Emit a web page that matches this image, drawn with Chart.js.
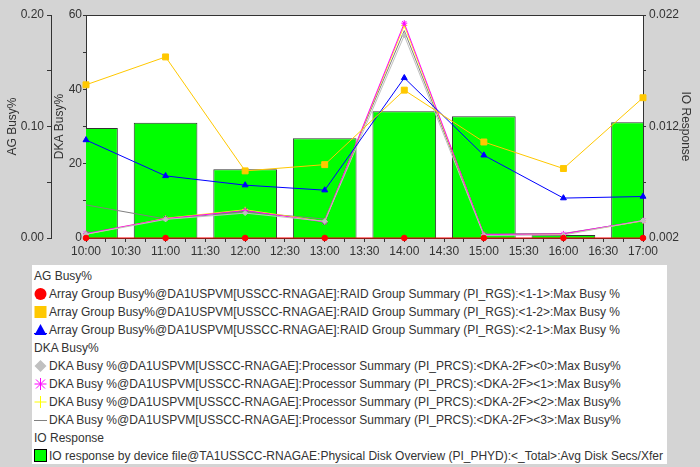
<!DOCTYPE html>
<html>
<head>
<meta charset="utf-8">
<script src="https://cdn.jsdelivr.net/npm/chart.js@4/dist/chart.umd.min.js"></script>
<style>
html,body{margin:0;padding:0;background:#d4d4d4;width:700px;height:467px;overflow:hidden;font-family:"Liberation Sans",Arial,sans-serif;}
#wrap{position:absolute;left:0;top:0;width:700px;height:262px;}
#legend{position:absolute;left:32px;top:265px;width:635px;height:199px;background:#fff;box-sizing:border-box;padding-top:2px;}
.row{height:18px;font-size:12px;color:#333;white-space:nowrap;display:flex;align-items:center;}
.hdr{padding-left:2px;}
.sym{width:15px;height:18px;margin-left:2px;flex:none;}
</style>
</head>
<body>
<div id="wrap"><canvas id="c" width="700" height="262"></canvas></div>
<div id="legend"></div>
<script>
// ---- data ----
const TIMES = ['10:00','11:00','12:00','13:00','14:00','15:00','16:00','17:00'];
const X_TICK_LABELS = ['10:00','10:30','11:00','11:30','12:00','12:30','13:00','13:30','14:00','14:30','15:00','15:30','16:00','16:30','17:00'];

const ag11 = [0, 0, 0, 0, 0, 0, 0, 0];
const ag12 = [0.1374, 0.1624, 0.0602, 0.0658, 0.1326, 0.0861, 0.0623, 0.1258];
const ag21 = [0.0879, 0.0557, 0.0474, 0.0429, 0.1436, 0.0742, 0.0358, 0.0372];

const dka0 = [1.0, 5.0, 6.7, 4.5, 54.5, 0.7, 0.8, 4.7];
const dka1 = [1.2, 5.2, 7.4, 4.3, 57.8, 0.9, 1.1, 4.7];
const dka2 = [1.0, 5.3, 7.6, 4.4, 57.2, 0.9, 1.0, 4.6];
const dka3 = [8.9, 5.1, 7.0, 5.1, 55.8, 1.1, 1.2, 4.6];

const ioResp = [0.01187, 0.01234, 0.00817, 0.01094, 0.01336, 0.01291, 0.00227, 0.01238];

const AG_TICKS = [0, 0.05, 0.10, 0.15, 0.20];
const AG_LABELS = ['0.00', '', '0.10', '', '0.20'];
const DKA_TICKS = [0, 10, 20, 30, 40, 50, 60];
const DKA_LABELS = ['0', '', '20', '', '40', '', '60'];
const IO_TICKS = [0.002, 0.007, 0.012, 0.017, 0.022];
const IO_LABELS = ['0.002', '', '0.012', '', '0.022'];

const GROUPS = ['AG Busy%', 'DKA Busy%', 'IO Response'];
const SERIES_NAMES = [
  'Array Group Busy%@DA1USPVM[USSCC-RNAGAE]:RAID Group Summary (PI_RGS):<1-1>:Max Busy %',
  'Array Group Busy%@DA1USPVM[USSCC-RNAGAE]:RAID Group Summary (PI_RGS):<1-2>:Max Busy %',
  'Array Group Busy%@DA1USPVM[USSCC-RNAGAE]:RAID Group Summary (PI_RGS):<2-1>:Max Busy %',
  'DKA Busy %@DA1USPVM[USSCC-RNAGAE]:Processor Summary (PI_PRCS):<DKA-2F><0>:Max Busy%',
  'DKA Busy %@DA1USPVM[USSCC-RNAGAE]:Processor Summary (PI_PRCS):<DKA-2F><1>:Max Busy%',
  'DKA Busy %@DA1USPVM[USSCC-RNAGAE]:Processor Summary (PI_PRCS):<DKA-2F><2>:Max Busy%',
  'DKA Busy %@DA1USPVM[USSCC-RNAGAE]:Processor Summary (PI_PRCS):<DKA-2F><3>:Max Busy%',
  'IO response by device file@TA1USSCC-RNAGAE:Physical Disk Overview (PI_PHYD):<_Total>:Avg Disk Secs/Xfer'
];

// ---- helpers ----
const xOf = t => { const [h, m] = t.split(':').map(Number); return h + m / 60; };
const pts = arr => arr.map((v, i) => ({ x: xOf(TIMES[i]), y: v }));
const X_MIN = xOf(X_TICK_LABELS[0]);
const X_MAX = xOf(X_TICK_LABELS[X_TICK_LABELS.length - 1]);
const X_TICKS = [];
for (let v = X_MIN; v <= X_MAX + 1e-9; v += 0.25) X_TICKS.push(v);
const xLabel = v => { const i = X_TICK_LABELS.findIndex(t => Math.abs(xOf(t) - v) < 1e-6); return i >= 0 ? X_TICK_LABELS[i] : ''; };

function lineDs(label, data, axis, color, style, radius, group, sym) {
  return {
    type: 'line', label, data: pts(data), xAxisID: 'xb', yAxisID: axis,
    borderColor: color, backgroundColor: color, borderWidth: 1,
    pointStyle: style, pointRadius: radius, pointHoverRadius: radius, pointBorderWidth: 1,
    pointBorderColor: color, pointBackgroundColor: color,
    tension: 0, clip: false, order: 1, group, sym
  };
}

const datasets = [
  lineDs(SERIES_NAMES[0], ag11, 'yAG', '#ff0000', 'circle', 2.8, 0, 'circle'),
  lineDs(SERIES_NAMES[1], ag12, 'yAG', '#ffc800', 'rect', 4.2, 0, 'rect'),
  lineDs(SERIES_NAMES[2], ag21, 'yAG', '#0000ff', 'triangle', 3.4, 0, 'triangle'),
  lineDs(SERIES_NAMES[3], dka0, 'yDKA', '#c0c0c0', 'rectRot', 2.5, 1, 'diamond'),
  lineDs(SERIES_NAMES[4], dka1, 'yDKA', '#ff00ff', 'star', 3, 1, 'star'),
  lineDs(SERIES_NAMES[5], dka2, 'yDKA', '#ffff00', 'cross', 3, 1, 'cross'),
  lineDs(SERIES_NAMES[6], dka3, 'yDKA', '#808080', 'circle', 0, 1, 'line'),
  {
    type: 'bar', label: SERIES_NAMES[7], data: pts(ioResp), xAxisID: 'xb', yAxisID: 'yIO',
    backgroundColor: '#00ff00', borderColor: '#333333', borderWidth: 1, borderSkipped: false,
    grouped: false, categoryPercentage: 1, barPercentage: 0.8, order: 10, group: 2, sym: 'box'
  }
];

Chart.defaults.font.family = '"Liberation Sans", Arial, sans-serif';
Chart.defaults.font.size = 12;
Chart.defaults.color = '#333';

const plotFrame = {
  id: 'plotFrame',
  beforeDraw(chart) {
    const a = chart.chartArea, ctx = chart.ctx;
    ctx.save(); ctx.fillStyle = '#ffffff';
    ctx.fillRect(a.left, a.top, a.right - a.left, a.bottom - a.top);
    ctx.restore();
  },
  afterDraw(chart) {
    const a = chart.chartArea, ctx = chart.ctx;
    ctx.save(); ctx.strokeStyle = '#333'; ctx.lineWidth = 1;
    ctx.beginPath();
    ctx.moveTo(Math.round(a.left) + 0.5, Math.round(a.top) + 0.5);
    ctx.lineTo(Math.round(a.right) + 0.5, Math.round(a.top) + 0.5);
    ctx.stroke();
    ctx.restore();
  }
};

const gridOpts = tl => ({ drawOnChartArea: false, color: '#333', tickLength: tl, tickColor: '#333' });
const borderOpts = { display: true, color: '#333', width: 1 };

new Chart(document.getElementById('c'), {
  type: 'bar',
  data: { datasets },
  plugins: [plotFrame],
  options: {
    responsive: false, animation: false,
    layout: { padding: { top: 15, right: 0, bottom: 0, left: 0 } },
    plugins: { legend: { display: false }, tooltip: { enabled: false } },
    scales: {
      x: {
        type: 'linear', position: 'bottom', min: X_MIN, max: X_MAX, offset: false,
        grid: Object.assign(gridOpts(4), { offset: false }), border: borderOpts,
        afterBuildTicks: s => { s.ticks = X_TICKS.map(v => ({ value: v })); },
        ticks: { autoSkip: false, maxRotation: 0, minRotation: 0, padding: 2, callback: v => xLabel(v) },
        afterFit: s => { s.height = 24; }
      },
      xb: {
        type: 'linear', display: false, min: X_MIN, max: X_MAX, offset: false,
        grid: { offset: false }, ticks: { stepSize: 1 }
      },
      yAG: {
        type: 'linear', position: 'left', weight: 2, min: 0, max: 0.2,
        grid: gridOpts(4), border: borderOpts,
        afterBuildTicks: s => { s.ticks = AG_TICKS.map(v => ({ value: v })); },
        ticks: { padding: 3, callback: (v, i) => AG_LABELS[i] },
        title: { display: true, text: GROUPS[0], color: '#333', font: { size: 12 }, padding: { top: 5.5, bottom: 0 } },
        afterFit: s => { s.width = 51; }
      },
      yDKA: {
        type: 'linear', position: 'left', weight: 1, min: 0, max: 60,
        grid: gridOpts(3), border: borderOpts,
        afterBuildTicks: s => { s.ticks = DKA_TICKS.map(v => ({ value: v })); },
        ticks: { padding: 1, callback: (v, i) => DKA_LABELS[i] },
        title: { display: true, text: GROUPS[1], color: '#333', font: { size: 12 }, padding: { top: 1, bottom: 0 } },
        afterFit: s => { s.width = 35; }
      },
      yIO: {
        type: 'linear', position: 'right', min: 0.002, max: 0.022,
        grid: gridOpts(3), border: borderOpts,
        afterBuildTicks: s => { s.ticks = IO_TICKS.map(v => ({ value: v })); },
        ticks: { padding: 3, callback: (v, i) => IO_LABELS[i] },
        title: { display: true, text: GROUPS[2], color: '#333', font: { size: 12 }, padding: { top: 7, bottom: 0 } },
        afterFit: s => { s.width = 57; }
      }
    }
  }
});

// ---- HTML legend built from the datasets ----
function symSvg(ds) {
  const c = ds.borderColor;
  let inner = '';
  switch (ds.sym) {
    case 'circle': inner = `<circle cx="6.5" cy="9" r="6" fill="${c}"/>`; break;
    case 'rect': inner = `<rect x="0.5" y="3" width="12" height="12" fill="${c}"/>`; break;
    case 'triangle': inner = `<polygon points="6.5,3 0.5,14 12.5,14" fill="${c}"/><line x1="0" y1="12.5" x2="13" y2="12.5" stroke="${c}"/>`; break;
    case 'diamond': inner = `<polygon points="6.5,3 12.5,9 6.5,15 0.5,9" fill="${c}"/>`; break;
    case 'star': inner = `<g stroke="${c}" stroke-width="1"><line x1="0.5" y1="9" x2="12.5" y2="9"/><line x1="6.5" y1="3" x2="6.5" y2="15"/><line x1="2" y1="4.5" x2="11" y2="13.5"/><line x1="11" y1="4.5" x2="2" y2="13.5"/></g>`; break;
    case 'cross': inner = `<g stroke="${c}" stroke-width="1"><line x1="0.5" y1="9" x2="12.5" y2="9"/><line x1="6.5" y1="3" x2="6.5" y2="15"/></g>`; break;
    case 'line': inner = `<line x1="0" y1="9.5" x2="13" y2="9.5" stroke="${c}"/>`; break;
    case 'box': inner = `<rect x="0.5" y="2.5" width="12" height="12" fill="${ds.backgroundColor}" stroke="#000"/>`; break;
  }
  return `<svg class="sym" width="15" height="18" viewBox="0 0 15 18">${inner}</svg>`;
}
const lg = document.getElementById('legend');
GROUPS.forEach((g, gi) => {
  const h = document.createElement('div');
  h.className = 'row hdr'; h.textContent = g; lg.appendChild(h);
  datasets.filter(d => d.group === gi).forEach(d => {
    const r = document.createElement('div');
    r.className = 'row';
    r.innerHTML = symSvg(d);
    const s = document.createElement('span');
    s.textContent = d.label;
    r.appendChild(s);
    lg.appendChild(r);
  });
});
</script>
</body>
</html>
